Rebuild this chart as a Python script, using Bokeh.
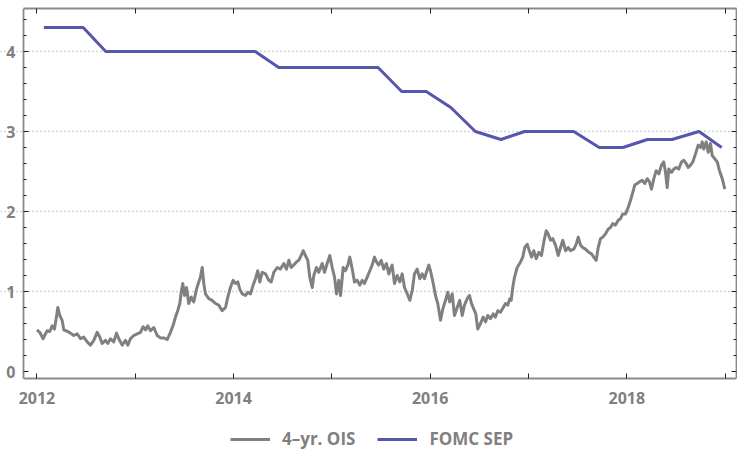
from bokeh.plotting import figure
from bokeh.models import Range1d, LinearAxis, FixedTicker, Legend, LegendItem
from bokeh.embed import file_html
from bokeh.resources import INLINE

# ---- data (decimal years) ----
ois_year = [
    2012.000, 2012.028, 2012.063, 2012.086, 2012.104, 2012.130, 2012.155, 2012.178, 2012.198, 2012.212,
    2012.232, 2012.256, 2012.273, 2012.313, 2012.341, 2012.374, 2012.409, 2012.443, 2012.476, 2012.511,
    2012.544, 2012.578, 2012.612, 2012.639, 2012.663, 2012.697, 2012.720, 2012.748, 2012.781, 2012.809,
    2012.832, 2012.867, 2012.900, 2012.924, 2012.951, 2012.985, 2013.019, 2013.053, 2013.080, 2013.104,
    2013.127, 2013.155, 2013.188, 2013.223, 2013.256, 2013.290, 2013.325, 2013.358, 2013.386, 2013.409,
    2013.432, 2013.453, 2013.467, 2013.483, 2013.501, 2013.521, 2013.544, 2013.569, 2013.595, 2013.623,
    2013.646, 2013.663, 2013.681, 2013.697, 2013.714, 2013.748, 2013.782, 2013.816, 2013.849, 2013.884,
    2013.918, 2013.941, 2013.968, 2013.996, 2014.019, 2014.043, 2014.063, 2014.088, 2014.121, 2014.144,
    2014.172, 2014.199, 2014.223, 2014.246, 2014.267, 2014.291, 2014.325, 2014.358, 2014.383, 2014.409,
    2014.444, 2014.477, 2014.511, 2014.538, 2014.562, 2014.586, 2014.612, 2014.640, 2014.663, 2014.688,
    2014.708, 2014.731, 2014.755, 2014.775, 2014.800, 2014.816, 2014.843, 2014.867, 2014.901, 2014.925,
    2014.952, 2014.979, 2015.003, 2015.027, 2015.047, 2015.070, 2015.088, 2015.115, 2015.138, 2015.162,
    2015.182, 2015.207, 2015.230, 2015.257, 2015.284, 2015.308, 2015.332, 2015.359, 2015.386, 2015.410,
    2015.433, 2015.454, 2015.477, 2015.502, 2015.528, 2015.555, 2015.579, 2015.596, 2015.613, 2015.637,
    2015.664, 2015.691, 2015.715, 2015.739, 2015.766, 2015.793, 2015.817, 2015.840, 2015.868, 2015.894,
    2015.919, 2015.942, 2015.962, 2015.986, 2016.003, 2016.031, 2016.054, 2016.077, 2016.105, 2016.128,
    2016.156, 2016.179, 2016.199, 2016.224, 2016.247, 2016.275, 2016.301, 2016.326, 2016.349, 2016.376,
    2016.400, 2016.420, 2016.444, 2016.464, 2016.484, 2016.512, 2016.539, 2016.563, 2016.586, 2016.613,
    2016.641, 2016.664, 2016.688, 2016.715, 2016.743, 2016.766, 2016.789, 2016.810, 2016.824, 2016.840,
    2016.858, 2016.885, 2016.919, 2016.942, 2016.962, 2016.987, 2017.003, 2017.031, 2017.054, 2017.078,
    2017.105, 2017.132, 2017.156, 2017.180, 2017.200, 2017.224, 2017.247, 2017.275, 2017.302, 2017.326,
    2017.349, 2017.377, 2017.404, 2017.427, 2017.461, 2017.485, 2017.506, 2017.529, 2017.552, 2017.580,
    2017.613, 2017.641, 2017.664, 2017.689, 2017.709, 2017.733, 2017.756, 2017.783, 2017.811, 2017.834,
    2017.858, 2017.885, 2017.913, 2017.936, 2017.959, 2017.987, 2018.014, 2018.038, 2018.061, 2018.081,
    2018.106, 2018.129, 2018.157, 2018.183, 2018.208, 2018.231, 2018.251, 2018.275, 2018.299, 2018.326,
    2018.353, 2018.376, 2018.394, 2018.411, 2018.427, 2018.455, 2018.478, 2018.503, 2018.529, 2018.556,
    2018.580, 2018.604, 2018.625, 2018.648, 2018.672, 2018.699, 2018.726, 2018.750, 2018.767, 2018.783,
    2018.808, 2018.828, 2018.851, 2018.869, 2018.895, 2018.920, 2018.943, 2018.971, 2018.997,
]
ois_value = [
    0.52, 0.49, 0.41, 0.47, 0.51, 0.50, 0.57, 0.53, 0.68, 0.80,
    0.70, 0.64, 0.52, 0.50, 0.48, 0.45, 0.47, 0.41, 0.43, 0.37,
    0.33, 0.39, 0.49, 0.43, 0.35, 0.39, 0.35, 0.41, 0.37, 0.48,
    0.41, 0.33, 0.39, 0.33, 0.41, 0.45, 0.47, 0.49, 0.56, 0.52,
    0.57, 0.51, 0.55, 0.45, 0.42, 0.42, 0.40, 0.49, 0.58, 0.68,
    0.76, 0.85, 0.99, 1.10, 0.95, 1.05, 0.85, 0.93, 0.87, 1.03,
    1.12, 1.18, 1.30, 1.10, 0.97, 0.91, 0.89, 0.85, 0.83, 0.76,
    0.80, 0.93, 1.05, 1.14, 1.10, 1.12, 1.03, 0.97, 0.95, 0.99,
    0.97, 1.08, 1.16, 1.26, 1.12, 1.24, 1.22, 1.14, 1.12, 1.24,
    1.30, 1.28, 1.35, 1.28, 1.39, 1.30, 1.33, 1.37, 1.39, 1.45,
    1.51, 1.45, 1.39, 1.18, 1.05, 1.20, 1.30, 1.24, 1.35, 1.24,
    1.35, 1.45, 1.30, 1.18, 0.97, 1.14, 0.95, 1.30, 1.26, 1.33,
    1.43, 1.28, 1.12, 1.14, 1.08, 1.14, 1.10, 1.18, 1.26, 1.33,
    1.43, 1.37, 1.33, 1.39, 1.28, 1.35, 1.22, 1.28, 1.33, 1.10,
    1.20, 1.12, 1.22, 1.05, 0.97, 0.89, 1.01, 1.22, 1.28, 1.16,
    1.22, 1.16, 1.24, 1.33, 1.26, 1.10, 0.95, 0.85, 0.64, 0.78,
    0.89, 0.99, 0.87, 0.97, 0.70, 0.80, 0.89, 0.70, 0.83, 0.91,
    0.95, 0.85, 0.78, 0.72, 0.53, 0.60, 0.68, 0.62, 0.70, 0.66,
    0.72, 0.68, 0.76, 0.74, 0.80, 0.85, 0.83, 0.91, 0.89, 1.05,
    1.18, 1.30, 1.37, 1.43, 1.55, 1.59, 1.53, 1.43, 1.51, 1.41,
    1.49, 1.45, 1.62, 1.76, 1.72, 1.64, 1.66, 1.58, 1.45, 1.55,
    1.64, 1.51, 1.55, 1.51, 1.53, 1.59, 1.68, 1.58, 1.55, 1.53,
    1.49, 1.47, 1.43, 1.39, 1.55, 1.66, 1.68, 1.72, 1.78, 1.80,
    1.85, 1.83, 1.89, 1.91, 1.97, 1.97, 2.05, 2.14, 2.24, 2.33,
    2.35, 2.37, 2.39, 2.35, 2.41, 2.37, 2.28, 2.41, 2.51, 2.47,
    2.58, 2.62, 2.49, 2.30, 2.53, 2.49, 2.53, 2.55, 2.53, 2.62,
    2.64, 2.60, 2.55, 2.58, 2.62, 2.72, 2.83, 2.80, 2.87, 2.78,
    2.87, 2.74, 2.85, 2.70, 2.66, 2.62, 2.51, 2.41, 2.28,
]

sep_year = [
    2012.07, 2012.31, 2012.47, 2012.70, 2012.95,
    2013.22, 2013.47, 2013.71, 2013.96,
    2014.22, 2014.46, 2014.71, 2014.96,
    2015.22, 2015.47, 2015.71, 2015.96,
    2016.21, 2016.46, 2016.72, 2016.96,
    2017.21, 2017.46, 2017.72, 2017.96,
    2018.21, 2018.46, 2018.735, 2018.965,
]
sep_value = [
    4.3, 4.3, 4.3, 4.0, 4.0,
    4.0, 4.0, 4.0, 4.0,
    4.0, 3.8, 3.8, 3.8,
    3.8, 3.8, 3.5, 3.5,
    3.3, 3.0, 2.9, 3.0,
    3.0, 3.0, 2.8, 2.8,
    2.9, 2.9, 3.0, 2.8,
]

year_ticks = [2012, 2013, 2014, 2015, 2016, 2017, 2018, 2019]
year_labels = {2012: "2012", 2013: "", 2014: "2014", 2015: "", 2016: "2016", 2017: "", 2018: "2018", 2019: ""}
y_major = [0, 1, 2, 3, 4]
y_minor = [0.2, 0.4, 0.6, 0.8, 1.2, 1.4, 1.6, 1.8, 2.2, 2.4, 2.6, 2.8, 3.2, 3.4, 3.6, 3.8, 4.2, 4.4]
series_names = ["4\u2013yr. OIS", "FOMC SEP"]

X_LEFT, X_RIGHT = 2011.863, 2019.116   # visible plot box
X_EXT = 2011.629                       # extra room on the left for tick labels
Y_BOTTOM, Y_TOP = -0.0875, 4.5375
Y_EXT = -1.05                          # extra room below for tick labels + legend

GRAY_TXT = "#808080"
FONT = "Open Sans"

p = figure(width=737, height=455,
           x_range=Range1d(X_EXT, X_RIGHT), y_range=Range1d(Y_EXT, Y_TOP),
           output_backend="svg", toolbar_location=None,
           min_border_left=0, min_border_right=1, min_border_top=8, min_border_bottom=0,
           outline_line_color=None)

p.xgrid.visible = False
p.ygrid.ticker = FixedTicker(ticks=[1, 2, 3, 4])
p.ygrid.bounds = (X_LEFT, X_RIGHT)
p.ygrid.grid_line_color = "#a8a8a8"
p.ygrid.grid_line_dash = "1 3"
p.ygrid.grid_line_width = 1.3

def style_axis(ax, show_labels):
    ax.axis_line_color = "#8a8a8a"
    ax.axis_line_width = 1.8
    ax.major_tick_line_color = "#222222"
    ax.minor_tick_line_color = "#222222"
    ax.major_tick_in = 5
    ax.major_tick_out = 0
    ax.minor_tick_in = 3
    ax.minor_tick_out = 0
    if show_labels:
        ax.major_label_text_font = FONT
        ax.major_label_text_font_style = "bold"
        ax.major_label_text_font_size = "16px"
        ax.major_label_text_color = GRAY_TXT
    else:
        ax.major_label_text_font_size = "1px"
        ax.major_label_text_color = None
        ax.major_label_standoff = 0

xb = p.xaxis[0]
xb.ticker = FixedTicker(ticks=year_ticks)
xb.major_label_overrides = year_labels
xb.fixed_location = Y_BOTTOM
xb.bounds = (X_LEFT, X_RIGHT)
style_axis(xb, True)
xb.major_label_standoff = 13

yl = p.yaxis[0]
yl.ticker = FixedTicker(ticks=y_major, minor_ticks=y_minor)
yl.fixed_location = X_LEFT
yl.bounds = (Y_BOTTOM, Y_TOP)
style_axis(yl, True)
yl.major_label_standoff = 8

xt = LinearAxis(ticker=FixedTicker(ticks=year_ticks), bounds=(X_LEFT, X_RIGHT))
style_axis(xt, False)
p.add_layout(xt, "above")

yr = LinearAxis(ticker=FixedTicker(ticks=y_major, minor_ticks=y_minor), bounds=(Y_BOTTOM, Y_TOP))
style_axis(yr, False)
p.add_layout(yr, "right")

r_ois = p.line(ois_year, ois_value, line_color="#808080", line_width=3, line_join="round")
r_sep = p.line(sep_year, sep_value, line_color="#5656AF", line_width=3, line_join="round")

legend = Legend(items=[LegendItem(label=series_names[0], renderers=[r_ois]),
                       LegendItem(label=series_names[1], renderers=[r_sep])],
                orientation="horizontal", location=(230, 5),
                background_fill_alpha=0, border_line_color=None,
                padding=0, margin=0, spacing=22, label_standoff=12,
                glyph_width=40, glyph_height=16,
                label_text_font=FONT, label_text_font_style="bold",
                label_text_font_size="17px", label_text_color=GRAY_TXT)
p.add_layout(legend, "center")

open("out.html", "w").write(file_html(p, INLINE))
